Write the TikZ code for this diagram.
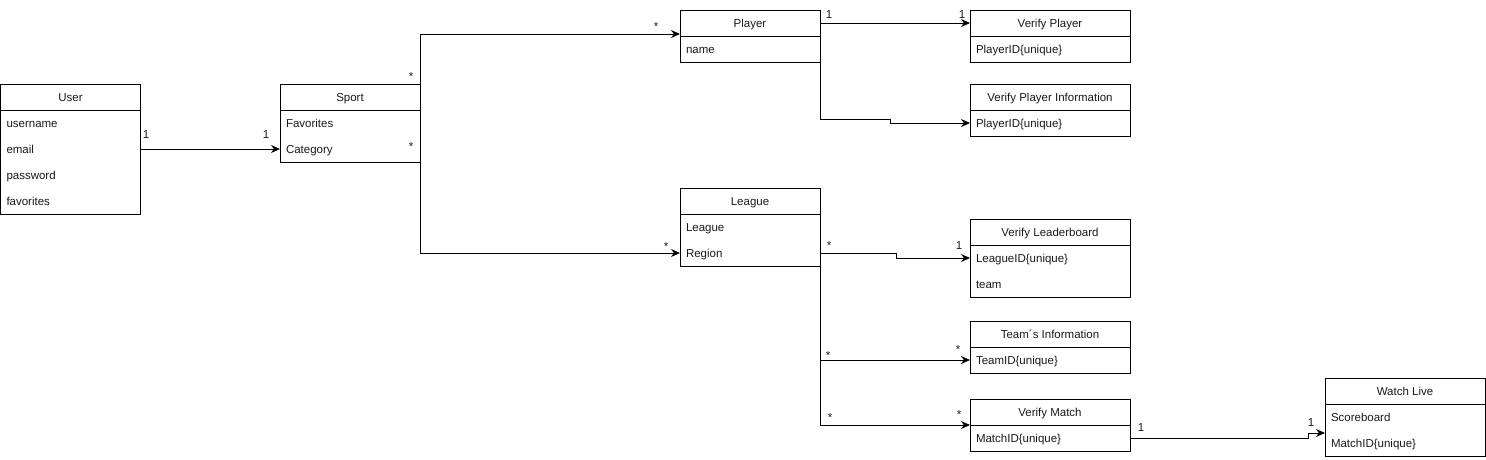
\documentclass[tikz,border=0pt]{standalone}
\usepackage{fontspec}
\setmainfont{Liberation Sans}
\usetikzlibrary{positioning,arrows.meta}
\begin{document}
\begin{tikzpicture}[>={Stealth[length=9pt,width=8pt]}, x=1pt, y=-1pt, line width=1pt,
        font=\fontsize{11.5}{13}\selectfont, text=black!90,
        hd/.style={draw, minimum width=#1, minimum height=26pt, text height=10pt, text depth=1.5pt, inner sep=0pt, outer sep=0pt, anchor=north west},
        row/.style={text width=#1, minimum height=26pt, text height=10pt, text depth=2pt, inner xsep=6pt, inner ysep=0pt, outer sep=0pt, align=left, anchor=north west},
        mult/.style={inner sep=0pt}]
        \useasboundingbox (0,0) rectangle (1486,459);
        \node[hd=140pt] (user) at (0.5,84) {User};
        \node[row=128pt] (uname) at (user.south west) {username};
        \node[row=128pt] (email) at (uname.south west) {email};
        \node[row=128pt] (pwd) at (email.south west) {password};
        \node[row=128pt] (ufav) at (pwd.south west) {favorites};
        \draw (user.north west) rectangle (ufav.south east);
        \node[hd=140pt] (sport) at (280,84) {Sport};
        \node[row=128pt] (sfav) at (sport.south west) {Favorites};
        \node[row=128pt] (cat) at (sfav.south west) {Category};
        \draw (sport.north west) rectangle (cat.south east);
        \node[hd=140pt] (player) at (680,10) {Player};
        \node[row=128pt] (pname) at (player.south west) {name};
        \draw (player.north west) rectangle (pname.south east);
        \node[hd=140pt] (league) at (680,188) {League};
        \node[row=128pt] (lname) at (league.south west) {League};
        \node[row=128pt] (region) at (lname.south west) {Region};
        \draw (league.north west) rectangle (region.south east);
        \node[hd=160pt] (vplayer) at (970,10) {Verify Player};
        \node[row=148pt] (vpid) at (vplayer.south west) {PlayerID\{unique\}};
        \draw (vplayer.north west) rectangle (vpid.south east);
        \node[hd=160pt] (vpinfo) at (970,84) {Verify Player Information};
        \node[row=148pt] (vpiid) at (vpinfo.south west) {PlayerID\{unique\}};
        \draw (vpinfo.north west) rectangle (vpiid.south east);
        \node[hd=160pt] (vlead) at (970,219) {Verify Leaderboard};
        \node[row=148pt] (lbid) at (vlead.south west) {LeagueID\{unique\}};
        \node[row=148pt] (lbteam) at (lbid.south west) {team};
        \draw (vlead.north west) rectangle (lbteam.south east);
        \node[hd=160pt] (tinfo) at (970,321) {Team´s Information};
        \node[row=148pt] (tmid) at (tinfo.south west) {TeamID\{unique\}};
        \draw (tinfo.north west) rectangle (tmid.south east);
        \node[hd=160pt] (vmatch) at (970,399) {Verify Match};
        \node[row=148pt] (mid) at (vmatch.south west) {MatchID\{unique\}};
        \draw (vmatch.north west) rectangle (mid.south east);
        \node[hd=160pt] (wlive) at (1325,378) {Watch Live};
        \node[row=148pt] (wscore) at (wlive.south west) {Scoreboard};
        \node[row=148pt] (wmid) at (wscore.south west) {MatchID\{unique\}};
        \draw (wlive.north west) rectangle (wmid.south east);
        \draw[->] (email.east) -- (cat.west);
        \draw[->] (sport.north east) |- ([yshift=2pt]player.south west);
        \draw[->] (cat.south east) |- (region.west);
        \draw[->] (player.east) -- (vplayer.west);
        \draw[->] (pname.south east) |- (890,119) |- (vpiid.west);
        \draw[->] (region.east) -| (896,258) -- (lbid.west);
        \draw[->] (region.south east) |- (tmid.west);
        \draw[->] (region.south east) |- (vmatch.south west);
        \draw[->] (mid.east) -| (1308,433) -- ([yshift=-3pt]wscore.south west);
        \node[mult] (mu1) at (146,135) {1};
        \node[mult] (ms1) at (266,135) {1};
        \node[mult] (ms2) at (411,77) {*};
        \node[mult] (ms3) at (411,147) {*};
        \node[mult] (mp1) at (656,27) {*};
        \node[mult] (ml1) at (666,247) {*};
        \node[mult] (mp2) at (829,15) {1};
        \node[mult] (mv1) at (962,15) {1};
        \node[mult] (ml2) at (829,246) {*};
        \node[mult] (mv2) at (959,246) {1};
        \node[mult] (ml3) at (828,356) {*};
        \node[mult] (mt1) at (958,350) {*};
        \node[mult] (ml4) at (830,418) {*};
        \node[mult] (mm1) at (959,415) {*};
        \node[mult] (mm2) at (1141,428) {1};
        \node[mult] (mw1) at (1311,423) {1};
    \end{tikzpicture}
\end{document}
